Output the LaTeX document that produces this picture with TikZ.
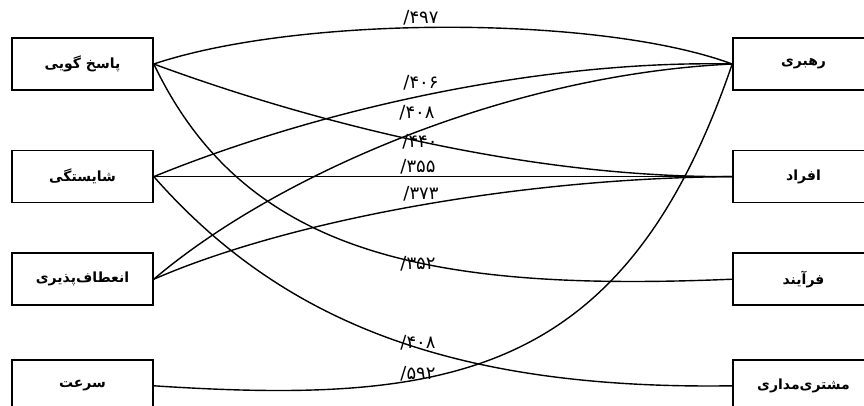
\documentclass[tikz,border=0pt]{standalone}
\usepackage{fontspec}
\newfontfamily\farsi[Script=Arabic]{DejaVu Sans}
\TeXXeTstate=1
\usepackage{tikz}
\usetikzlibrary{positioning}

\newcommand{\coef}[1]{\hbox{/}\hbox{#1}}

\begin{document}
\begin{tikzpicture}[
    x=1pt, y=-1pt,
    box/.style={rectangle, draw, line width=1.6pt, minimum width=141pt, minimum height=52pt, font=\farsi\bfseries\fontsize{14}{16}\selectfont},
    val/.style={inner sep=0pt, font=\farsi\fontsize{18}{20}\selectfont},
    link/.style={line width=1.4pt}
]
    \clip (0,0) rectangle (864,405);
    \fill[white] (0,0) rectangle (864,405);

    % left column
    \node (resp)  [box] at (82.5,64)  {\beginR پاسخ گویی\endR};
    \node (comp)  [box, below=59pt of resp] {\beginR شایستگی\endR};
    \node (flex)  [box, below=49pt of comp] {\beginR انعطاف‌پذیری\endR};
    \node (speed) [box, below=53pt of flex] {\beginR سرعت\endR};

    % right column
    \node (lead)   [box] at (803.5,64) {\beginR رهبری\endR};
    \node (people) [box, below=59pt of lead] {\beginR افراد\endR};
    \node (proc)   [box, below=49pt of people] {\beginR فرآیند\endR};
    \node (cust)   [box, below=53pt of proc] {\beginR مشتری‌مداری\endR};

    \draw [link] (resp.east) .. controls (300,15) and (600,15) .. (lead.west);
    \draw [link] (resp.east) .. controls (300,118) and (520,178) .. (people.west);
    \draw [link] (resp.east) .. controls (245,255) and (430,292) .. (proc.west);
    \draw [link] (comp.east) .. controls (330,105) and (550,60) .. (lead.west);
    \draw [link] (comp.east) -- (people.west);
    \draw [link] (comp.east) .. controls (280,320) and (450,390) .. (cust.west);
    \draw [link] (flex.east) .. controls (270,180) and (500,75) .. (lead.west);
    \draw [link] (flex.east) .. controls (290,220) and (520,178) .. (people.west);
    \draw [link] (speed.east) .. controls (450,405) and (625,378) .. (lead.west);

    \node (v1) [val] at (421,18)  {\coef{۴۹۷}};
    \node (v2) [val] at (421,83)  {\coef{۴۰۶}};
    \node (v3) [val] at (417,113) {\coef{۴۰۸}};
    \node (v4) [val] at (420,142) {\coef{۴۴۰}};
    \node (v5) [val] at (418,167) {\coef{۳۵۵}};
    \node (v6) [val] at (421,194) {\coef{۳۷۳}};
    \node (v7) [val] at (418,264) {\coef{۳۵۲}};
    \node (v8) [val] at (418,343) {\coef{۴۰۸}};
    \node (v9) [val] at (418,374) {\coef{۵۹۲}};
\end{tikzpicture}
\end{document}
